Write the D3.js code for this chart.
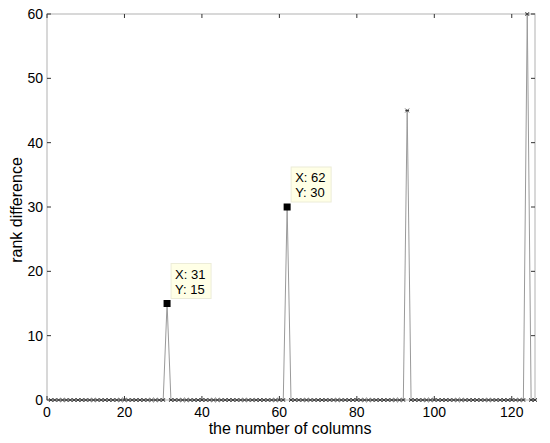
<!DOCTYPE html>
<html>
<head>
<meta charset="utf-8">
<script src="https://cdn.jsdelivr.net/npm/d3@7"></script>
<style>
  body { margin: 0; background: #fff; }
  text { font-family: "Liberation Sans", Arial, sans-serif; fill: #000; }
</style>
</head>
<body>
<div id="chart"></div>
<script>
// rank difference per column, zero except every 31st column
var columns = d3.range(1, 127);
var peakCols = [31, 62, 93, 124];
var peakVals = [15, 30, 45, 60];
var rankDiff = columns.map(function(c) {
  var i = peakCols.indexOf(c);
  return i < 0 ? 0 : peakVals[i];
});
var xTicks = [0, 20, 40, 60, 80, 100, 120];
var yTicks = [0, 10, 20, 30, 40, 50, 60];
// data tips shown in the figure
var tips = [{x: 31, y: 15}, {x: 62, y: 30}];

const width = 550, height = 443;
const pLeft = 47, pRight = 535, pTop = 14, pBottom = 400;

var svg = d3.select("#chart").append("svg")
  .attr("width", width)
  .attr("height", height);

var x = d3.scaleLinear().domain([0, 126]).range([pLeft, pRight]);
var y = d3.scaleLinear().domain([0, 60]).range([pBottom, pTop]);

var data = columns.map(function(c, i) { return {x: c, y: rankDiff[i]}; });

// box
svg.append("rect")
  .attr("x", pLeft).attr("y", pTop)
  .attr("width", pRight - pLeft).attr("height", pBottom - pTop)
  .style("fill", "none")
  .style("stroke", "#c4c4c4")
  .style("stroke-width", 1.3);

// tick marks (inward, all four sides)
var tickLen = 4;
xTicks.forEach(function(t) {
  svg.append("line").attr("x1", x(t)).attr("x2", x(t)).attr("y1", pBottom).attr("y2", pBottom - tickLen)
    .style("stroke", "#333").style("stroke-width", 1);
  svg.append("line").attr("x1", x(t)).attr("x2", x(t)).attr("y1", pTop).attr("y2", pTop + tickLen)
    .style("stroke", "#333").style("stroke-width", 1);
});
yTicks.forEach(function(t) {
  svg.append("line").attr("x1", pLeft).attr("x2", pLeft + tickLen).attr("y1", y(t)).attr("y2", y(t))
    .style("stroke", "#333").style("stroke-width", 1);
  svg.append("line").attr("x1", pRight).attr("x2", pRight - tickLen).attr("y1", y(t)).attr("y2", y(t))
    .style("stroke", "#333").style("stroke-width", 1);
});

// tick labels
svg.selectAll(".xlab").data(xTicks).enter().append("text")
  .attr("x", function(d) { return x(d); })
  .attr("y", pBottom + 17)
  .attr("text-anchor", "middle")
  .style("font-size", "14px")
  .text(function(d) { return d; });

svg.selectAll(".ylab").data(yTicks).enter().append("text")
  .attr("x", pLeft - 4)
  .attr("y", function(d) { return y(d) + 5; })
  .attr("text-anchor", "end")
  .style("font-size", "14px")
  .text(function(d) { return d; });

// axis titles
svg.append("text")
  .attr("x", 290)
  .attr("y", 434)
  .attr("text-anchor", "middle")
  .style("font-size", "16px")
  .text("the number of columns");

svg.append("text")
  .attr("transform", "translate(" + 22 + "," + 210 + ") rotate(-90)")
  .attr("text-anchor", "middle")
  .style("font-size", "16px")
  .text("rank difference");

// line
var line = d3.line().x(function(d) { return x(d.x); }).y(function(d) { return y(d.y); });
svg.append("path")
  .datum(data)
  .attr("d", line)
  .style("fill", "none")
  .style("stroke", "#9a9a9a")
  .style("stroke-width", 1);

// markers (small x's)
var m = 1.9;
svg.append("g").selectAll("path")
  .data(data)
  .enter()
  .append("path")
  .attr("d", function(d) {
    var cx = x(d.x), cy = y(d.y);
    return "M" + (cx - m) + "," + (cy - m) + "L" + (cx + m) + "," + (cy + m) +
           "M" + (cx - m) + "," + (cy + m) + "L" + (cx + m) + "," + (cy - m) +
           "M" + (cx - m) + "," + cy + "L" + (cx + m) + "," + cy;
  })
  .style("stroke", "#333")
  .style("stroke-width", 0.9)
  .style("fill", "none");

// data tips
tips.forEach(function(t) {
  var px = x(t.x), py = y(t.y);
  svg.append("rect")
    .attr("x", px - 3.5).attr("y", py - 3.5)
    .attr("width", 7).attr("height", 7)
    .style("fill", "#000");
  svg.append("rect")
    .attr("x", px + 4).attr("y", py - 40)
    .attr("width", 40).attr("height", 35)
    .style("fill", "#ffffe6")
    .style("stroke", "#ececd8")
    .style("stroke-width", 1);
  svg.append("text")
    .attr("x", px + 8).attr("y", py - 25)
    .style("font-size", "13px")
    .text("X: " + t.x);
  svg.append("text")
    .attr("x", px + 8).attr("y", py - 10)
    .style("font-size", "13px")
    .text("Y: " + t.y);
});
</script>
</body>
</html>
